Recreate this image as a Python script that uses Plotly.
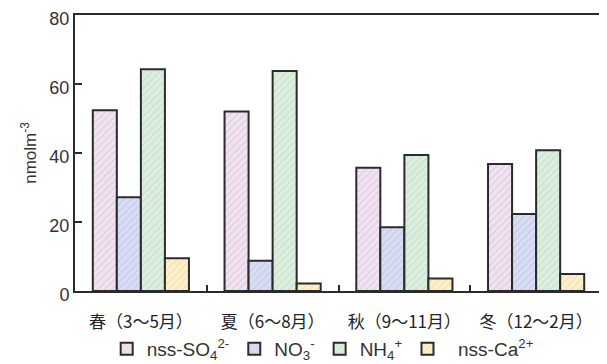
import plotly.graph_objects as go

categories = ["春（3～5月）", "夏（6～8月）", "秋（9～11月）", "冬（12～2月）"]
series_names = ["nss-SO<sub>4</sub><sup>2-</sup>", "NO<sub>3</sub><sup>-</sup>",
                "NH<sub>4</sub><sup>+</sup>", "  nss-Ca<sup>2+</sup>"]
so4 = [52.4, 52.0, 35.7, 36.8]
no3 = [27.2, 8.8, 18.5, 22.3]
nh4 = [64.3, 63.8, 39.4, 40.8]
ca = [9.5, 2.2, 3.6, 4.9]
y_ticks = [0, 20, 40, 60, 80]

values = [so4, no3, nh4, ca]
fills = ["#f1e2f1", "#d9ddf3", "#dcefdf", "#fcf0cc"]
hatch = ["#d7bfd9", "#b9c0e3", "#bdd8c2", "#ecd79a"]

fig = go.Figure()
for name, vals, fc, hc in zip(series_names, values, fills, hatch):
    fig.add_trace(go.Bar(
        x=categories, y=vals, name=name,
        marker=dict(color=fc, line=dict(color="#2b2b2b", width=2),
                    pattern=dict(shape="/", fgcolor=hc, size=5, solidity=0.2,
                                 fgopacity=0.8)),
    ))

fig.update_layout(
    width=607, height=364,
    margin=dict(l=67, r=13, t=7, b=81, autoexpand=False),
    plot_bgcolor="white", paper_bgcolor="white",
    barmode="group", bargap=0.27, bargroupgap=0,
    font=dict(family="Liberation Sans, Arial, Noto Sans CJK JP", color="#333333"),
    showlegend=True,
    legend=dict(orientation="h", x=0.47, xanchor="center", y=-0.21, yanchor="middle",
                font=dict(size=19, color="#333333"), itemwidth=30,
                bgcolor="rgba(0,0,0,0)"),
    xaxis=dict(showline=True, linecolor="#2b2b2b", linewidth=2, mirror=True,
               ticks="inside", ticklen=6, tickwidth=1.6, tickcolor="#2b2b2b",
               tickson="boundaries", ticklabelstandoff=15, automargin=False,
               tickfont=dict(size=17, family="Noto Sans CJK JP", color="#222222"),
               range=[-0.5, 3.5]),
    yaxis=dict(showline=True, linecolor="#2b2b2b", linewidth=2, mirror=True,
               range=[0, 80], tickvals=y_ticks, ticks="inside", ticklen=7,
               tickwidth=1.6, tickcolor="#2b2b2b", showgrid=False, zeroline=False,
               automargin=False, ticklabeloverflow="allow", ticklabelshift=4,
               tickfont=dict(size=18, color="#333333"),
               title=dict(text="nmolm<sup>-3</sup>", font=dict(size=17, color="#333333"),
                          standoff=8)),
)

fig.write_html("out.html")
